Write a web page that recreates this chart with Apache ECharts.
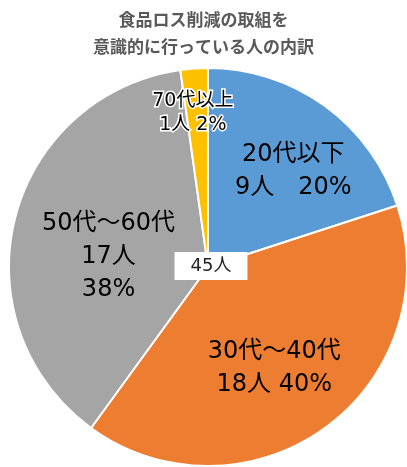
<!DOCTYPE html>
<html>
<head>
<meta charset="utf-8">
<script src="https://cdn.jsdelivr.net/npm/echarts@6/dist/echarts.min.js"></script>
<style>
  html, body { margin: 0; padding: 0; background: #fff; }
  #chart { width: 407px; height: 467px; }
</style>
</head>
<body>
<div id="chart"></div>
<script>
// data
const ageGroups = ["20代以下", "30代～40代", "50代～60代", "70代以上"];
const counts = [9, 18, 17, 1];
const colors = ["#5B9BD5", "#ED7D31", "#A5A5A5", "#FFC000"];
// separator between "n人" and "xx%" in each label
const separators = ["　", " ", "\n", " "];

const total = counts.reduce((a, b) => a + b, 0);
const font = '"DejaVu Sans", "Noto Sans CJK JP", sans-serif';
const titleFont = '"Noto Sans CJK JP", sans-serif';

// label tweaks (offset from the default inside position)
const labelOffsets = [[25, -13], [6, 18], [0, 15], [-8, -52]];

const pieData = ageGroups.map((name, i) => ({
  name: name,
  value: counts[i],
  itemStyle: { color: colors[i] },
  label: i === 3
    ? { offset: labelOffsets[i], fontSize: 19, lineHeight: 24, textBorderColor: "#fff", textBorderWidth: 3 }
    : { offset: labelOffsets[i] },
}));

const chart = echarts.init(document.getElementById("chart"));
chart.setOption({
  animation: false,
  title: {
    text: "食品ロス削減の取組を\n意識的に行っている人の内訳",
    left: "center",
    top: 1,
    textStyle: {
      fontFamily: titleFont,
      fontSize: 17,
      fontWeight: "bold",
      color: "#595959",
      lineHeight: 27,
    },
  },
  graphic: [
    {
      type: "text",
      x: 211,
      y: 266,
      z: 100,
      style: {
        text: total + "人",
        font: "18px " + font,
        fill: "#222",
        align: "center",
        verticalAlign: "middle",
        backgroundColor: "#fff",
        padding: [5, 16],
      },
    },
  ],
  series: [
    {
      type: "pie",
      center: [208, 267],
      radius: [0, 199],
      startAngle: 90,
      clockwise: true,
      avoidLabelOverlap: false,
      itemStyle: { borderColor: "#fff", borderWidth: 2 },
      label: {
        show: true,
        position: "inside",
        color: "#000",
        fontFamily: font,
        fontSize: 24,
        lineHeight: 33,
        formatter: (p) =>
          p.name + "\n" + p.value + "人" + separators[p.dataIndex] +
          Math.round((p.value / total) * 100) + "%",
      },
      labelLine: { show: false },
      data: pieData,
    },
  ],
});
</script>
</body>
</html>
